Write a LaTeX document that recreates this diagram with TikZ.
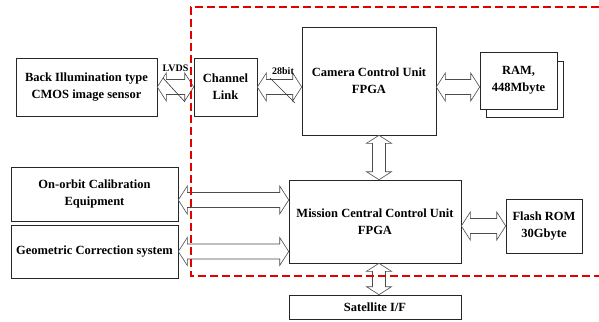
\documentclass[tikz,border=0pt]{standalone}
\usepackage{fontspec}
\setmainfont{Liberation Serif}
\usetikzlibrary{calc}

\tikzset{
	blk/.style={draw=black!85, line width=0.6pt, fill=white, align=center, inner sep=1pt,
		font=\fontsize{12.5}{17}\selectfont\bfseries},
	bus/.style={draw=black!70, line width=0.6pt, fill=white},
	frame/.style={red!90!black, line width=1.2pt, dash pattern=on 8pt off 4pt},
	lbl/.style={font=\fontsize{10}{11}\selectfont\bfseries, inner sep=0pt}
}
\newcommand{\hbus}[2]{%
	\draw[bus] let \p1=#1, \p2=#2 in
		(\x1,\y1) -- ({\x1+9pt},{\y1+14pt}) -- ({\x1+9pt},{\y1+7.5pt}) -- ({\x2-9pt},{\y1+7.5pt})
		-- ({\x2-9pt},{\y1+14pt}) -- (\x2,\y1) -- ({\x2-9pt},{\y1-14pt}) -- ({\x2-9pt},{\y1-7.5pt})
		-- ({\x1+9pt},{\y1-7.5pt}) -- ({\x1+9pt},{\y1-14pt}) -- cycle;}
\newcommand{\vbus}[2]{%
	\draw[bus] let \p1=#1, \p2=#2 in
		(\x1,\y1) -- ({\x1+12.5pt},{\y1-8pt}) -- ({\x1+6.5pt},{\y1-8pt}) -- ({\x1+6.5pt},{\y2+8pt})
		-- ({\x1+12.5pt},{\y2+8pt}) -- (\x1,\y2) -- ({\x1-12.5pt},{\y2+8pt}) -- ({\x1-6.5pt},{\y2+8pt})
		-- ({\x1-6.5pt},{\y1-8pt}) -- ({\x1-12.5pt},{\y1-8pt}) -- cycle;}

\begin{document}
\begin{tikzpicture}[x=1pt,y=-1pt]
	\useasboundingbox (0,0) rectangle (599,321);
	\node [blk, minimum width=141, minimum height=58] (sensor) at (86.5,87) {Back Illumination type\\CMOS image sensor};
	\node [blk, minimum width=63, minimum height=58] (chlink) at (225.5,87) {Channel\\Link};
	\node [blk, minimum width=134, minimum height=108] (camera) at (369,81) {Camera Control Unit\\FPGA};
	\node [blk, minimum width=77, minimum height=56] (ramback) at (525,89) {};
	\node [blk, minimum width=77, minimum height=57] (ram) at (518.5,80.5) {RAM,\\448Mbyte};
	\node [blk, minimum width=167, minimum height=54] (onorbit) at (94.5,194) {On-orbit Calibration\\Equipment};
	\node [blk, minimum width=167, minimum height=53] (geocorr) at (94.5,251.5) {Geometric Correction system};
	\node [blk, minimum width=172, minimum height=83] (mission) at (375,221.5) {Mission Central Control Unit\\FPGA};
	\node [blk, minimum width=76, minimum height=54] (flash) at (544,226) {Flash ROM\\30Gbyte};
	\node [blk, minimum width=172, minimum height=24] (satif) at (375,307) {Satellite I/F};

	\hbus{(sensor.east)}{(chlink.west)}
	\hbus{(chlink.east)}{(chlink.east -| camera.west)}
	\hbus{(camera.east |- chlink.east)}{(ram.west |- chlink.east)}
	\hbus{([yshift=-6pt]onorbit.east)}{([yshift=-6pt]onorbit.east -| mission.west)}
	\hbus{(geocorr.east)}{(geocorr.east -| mission.west)}
	\hbus{(mission.east |- flash.west)}{(flash.west)}
	\vbus{([xshift=10pt]camera.south)}{([xshift=4pt]mission.north)}
	\vbus{([xshift=4pt]mission.south)}{([xshift=4pt]satif.north)}

	\node [lbl] (lvds) at (175.5,68) {LVDS};
	\node [lbl] (bits) at (283,71) {28bit};
	\draw [black!80, line width=0.6pt] (163,78) -- (185,102);
	\draw [black!80, line width=0.6pt] (270,78) -- (295,103);

	\draw [frame] (599,7) -- (191,7) -- (191,276) -- (599,276);
\end{tikzpicture}
\end{document}
